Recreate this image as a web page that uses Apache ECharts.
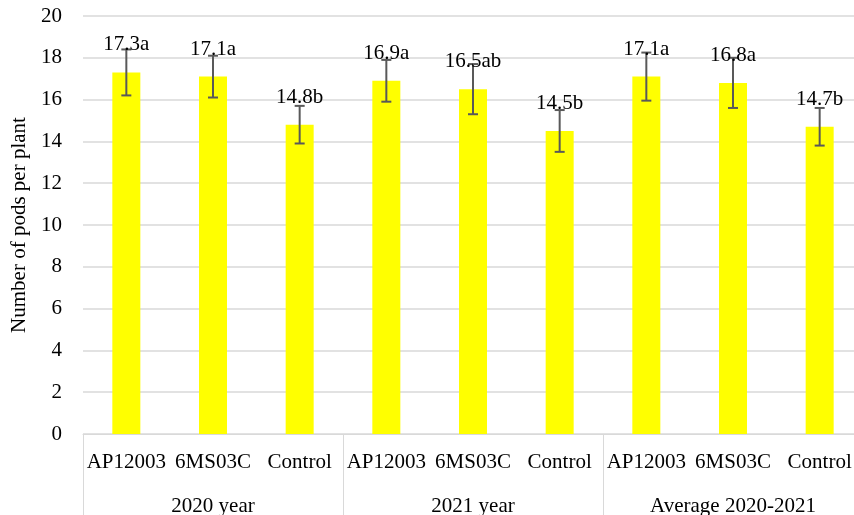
<!DOCTYPE html>
<html>
<head>
<meta charset="utf-8">
<script src="https://cdn.jsdelivr.net/npm/echarts@6/dist/echarts.min.js"></script>
<style>html,body{margin:0;padding:0;background:#fff;}#c{width:854px;height:515px;}</style>
</head>
<body>
<div id="c"></div>
<script>
var categories = ['AP12003', '6MS03C', 'Control', 'AP12003', '6MS03C', 'Control', 'AP12003', '6MS03C', 'Control'];
var groups = ['2020 year', '2021 year', 'Average 2020-2021'];
var values = [17.3, 17.1, 14.8, 16.9, 16.5, 14.5, 17.1, 16.8, 14.7];
var errors = [1.1, 1.0, 0.9, 1.0, 1.2, 1.0, 1.15, 1.2, 0.9];
var letters = ['a', 'a', 'b', 'a', 'ab', 'b', 'a', 'a', 'b'];
var yTicks = [0, 2, 4, 6, 8, 10, 12, 14, 16, 18, 20];

var FONT = "'Liberation Serif', 'Times New Roman', serif";
var FS = 21;
var chart = echarts.init(document.getElementById('c'));

var errData = values.map(function (v, i) { return [i, v, errors[i], letters[i]]; });

chart.setOption({
  animation: false,
  backgroundColor: '#fff',
  grid: { left: 83, top: 16, width: 780, height: 418, containLabel: false, outerBoundsMode: 'none' },
  xAxis: [
    {
      type: 'category', data: categories, position: 'bottom',
      axisLine: { show: true, lineStyle: { color: '#d9d9d9', width: 1 } },
      axisTick: { show: false },
      axisLabel: { interval: 0, color: '#000', fontFamily: FONT, fontSize: FS, margin: 18 }
    },
    {
      type: 'category', data: groups, position: 'bottom', boundaryGap: true,
      axisLine: { show: false },
      axisTick: { show: true, interval: 0, length: 90, lineStyle: { color: '#d9d9d9', width: 1 } },
      axisLabel: { interval: 0, color: '#000', fontFamily: FONT, fontSize: FS, margin: 62 }
    }
  ],
  yAxis: {
    type: 'value', min: yTicks[0], max: yTicks[yTicks.length - 1], interval: 2,
    name: 'Number of pods per plant', nameLocation: 'middle', nameGap: 53,
    nameTextStyle: { color: '#000', fontFamily: FONT, fontSize: FS },
    axisLine: { show: false }, axisTick: { show: false },
    axisLabel: { color: '#000', fontFamily: FONT, fontSize: FS, margin: 21, padding: [4, 0, 0, 0] },
    splitLine: { lineStyle: { color: '#d9d9d9', width: 1.5 } }
  },
  series: [
    {
      type: 'bar', data: values, xAxisIndex: 0, barWidth: 28, z: 2,
      itemStyle: { color: '#ffff00' }
    },
    {
      type: 'custom', xAxisIndex: 0, z: 3, data: errData,
      encode: { x: 0, y: 1 },
      renderItem: function (params, api) {
        var i = api.value(0), v = api.value(1), e = api.value(2);
        var hi = api.coord([i, v + e]);
        var lo = api.coord([i, v - e]);
        var top = api.coord([i, v]);
        var hw = 5;
        var st = { stroke: '#595959', lineWidth: 2 };
        return {
          type: 'group',
          children: [
            { type: 'line', shape: { x1: hi[0], y1: hi[1], x2: lo[0], y2: lo[1] }, style: st },
            { type: 'line', shape: { x1: hi[0] - hw, y1: hi[1], x2: hi[0] + hw, y2: hi[1] }, style: st },
            { type: 'line', shape: { x1: lo[0] - hw, y1: lo[1], x2: lo[0] + hw, y2: lo[1] }, style: st },
            {
              type: 'text', z2: 10,
              style: {
                text: values[params.dataIndex].toFixed(1) + letters[params.dataIndex],
                x: top[0], y: top[1] - 17,
                textAlign: 'center', textVerticalAlign: 'bottom',
                font: FS + 'px ' + FONT, fill: '#000'
              }
            }
          ]
        };
      }
    }
  ]
});
</script>
</body>
</html>
